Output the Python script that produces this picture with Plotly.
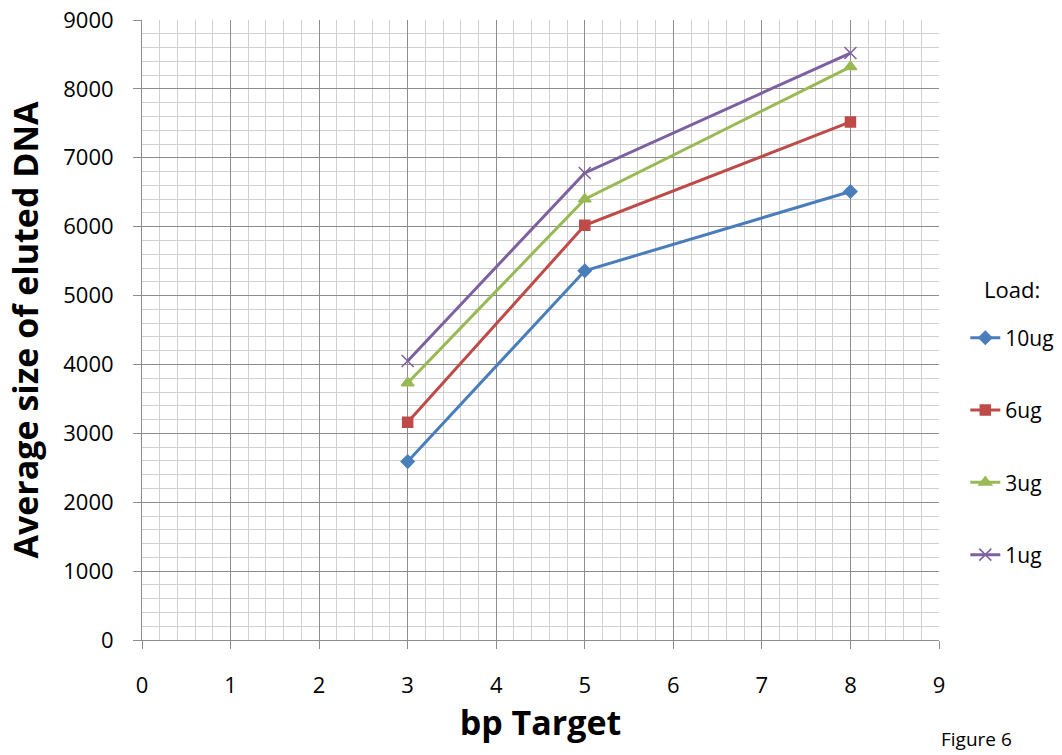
import plotly.graph_objects as go

bp_target = [3, 5, 8]
load_names = ["10ug", "6ug", "3ug", "1ug"]
avg_size = {
    "10ug": [2590, 5360, 6510],
    "6ug": [3160, 6020, 7520],
    "3ug": [3730, 6400, 8320],
    "1ug": [4050, 6780, 8520],
}
colors = {"10ug": "#4A7EBB", "6ug": "#BE4B48", "3ug": "#98B954", "1ug": "#7D60A0"}
symbols = {"10ug": "diamond", "6ug": "square", "3ug": "triangle-up", "1ug": "x-thin"}
sizes = {"10ug": 10, "6ug": 10, "3ug": 11, "1ug": 12}

FONT = "Open Sans, Liberation Sans, sans-serif"

fig = go.Figure()
for name in load_names:
    c = colors[name]
    fig.add_trace(go.Scatter(
        x=bp_target, y=avg_size[name], name=name, mode="lines+markers",
        line=dict(color=c, width=3),
        marker=dict(symbol=symbols[name], size=sizes[name], color=c,
                    line=dict(color=c, width=1.5)),
        legendgroup=name,
    ))

grid_major = "#8c8c8c"
grid_minor = "#d0d0d0"

fig.update_layout(
    width=1062, height=755,
    margin=dict(l=142, r=123, t=20, b=115, autoexpand=False),
    paper_bgcolor="white", plot_bgcolor="white",
    font=dict(family=FONT, color="black", size=21),
    showlegend=True,
    legend=dict(
        x=1.033, y=0.52, xanchor="left", yanchor="top",
        font=dict(size=21),
        tracegroupgap=42,
        bgcolor="rgba(0,0,0,0)",
    ),
    xaxis=dict(
        range=[0, 9], dtick=1, tick0=0,
        showgrid=True, gridcolor=grid_major, gridwidth=1,
        minor=dict(dtick=0.2, showgrid=True, gridcolor=grid_minor, gridwidth=1),
        ticks="outside", ticklen=8, tickcolor=grid_major,
        ticklabelstandoff=18,
        showline=True, linecolor=grid_major, linewidth=1,
        zeroline=False,
        tickfont=dict(size=22, family=FONT),
        title=dict(text="<b>bp Target</b>", font=dict(size=34, family=FONT), standoff=12),
    ),
    yaxis=dict(
        range=[0, 9000], dtick=1000, tick0=0,
        showgrid=True, gridcolor=grid_major, gridwidth=1,
        minor=dict(dtick=200, showgrid=True, gridcolor=grid_minor, gridwidth=1),
        ticks="outside", ticklen=8, tickcolor=grid_major,
        ticklabelstandoff=15,
        showline=True, linecolor=grid_major, linewidth=1,
        zeroline=False,
        tickfont=dict(size=22, family=FONT),
        title=dict(text="<b>Average size of eluted DNA</b>", font=dict(size=34, family=FONT), standoff=14),
    ),
    annotations=[
        dict(
            text="Load:", x=1.0, y=1.0, xref="paper", yref="paper",
            xanchor="left", yanchor="middle", xshift=43, yshift=-269,
            showarrow=False, font=dict(size=22, family=FONT),
        ),
        dict(
            text="Figure 6", x=1.0, y=0.0, xref="paper", yref="paper",
            xanchor="left", yanchor="top", yshift=-84, xshift=0,
            showarrow=False, font=dict(size=19, family=FONT),
        ),
    ],
)

fig.write_html("out.html")
